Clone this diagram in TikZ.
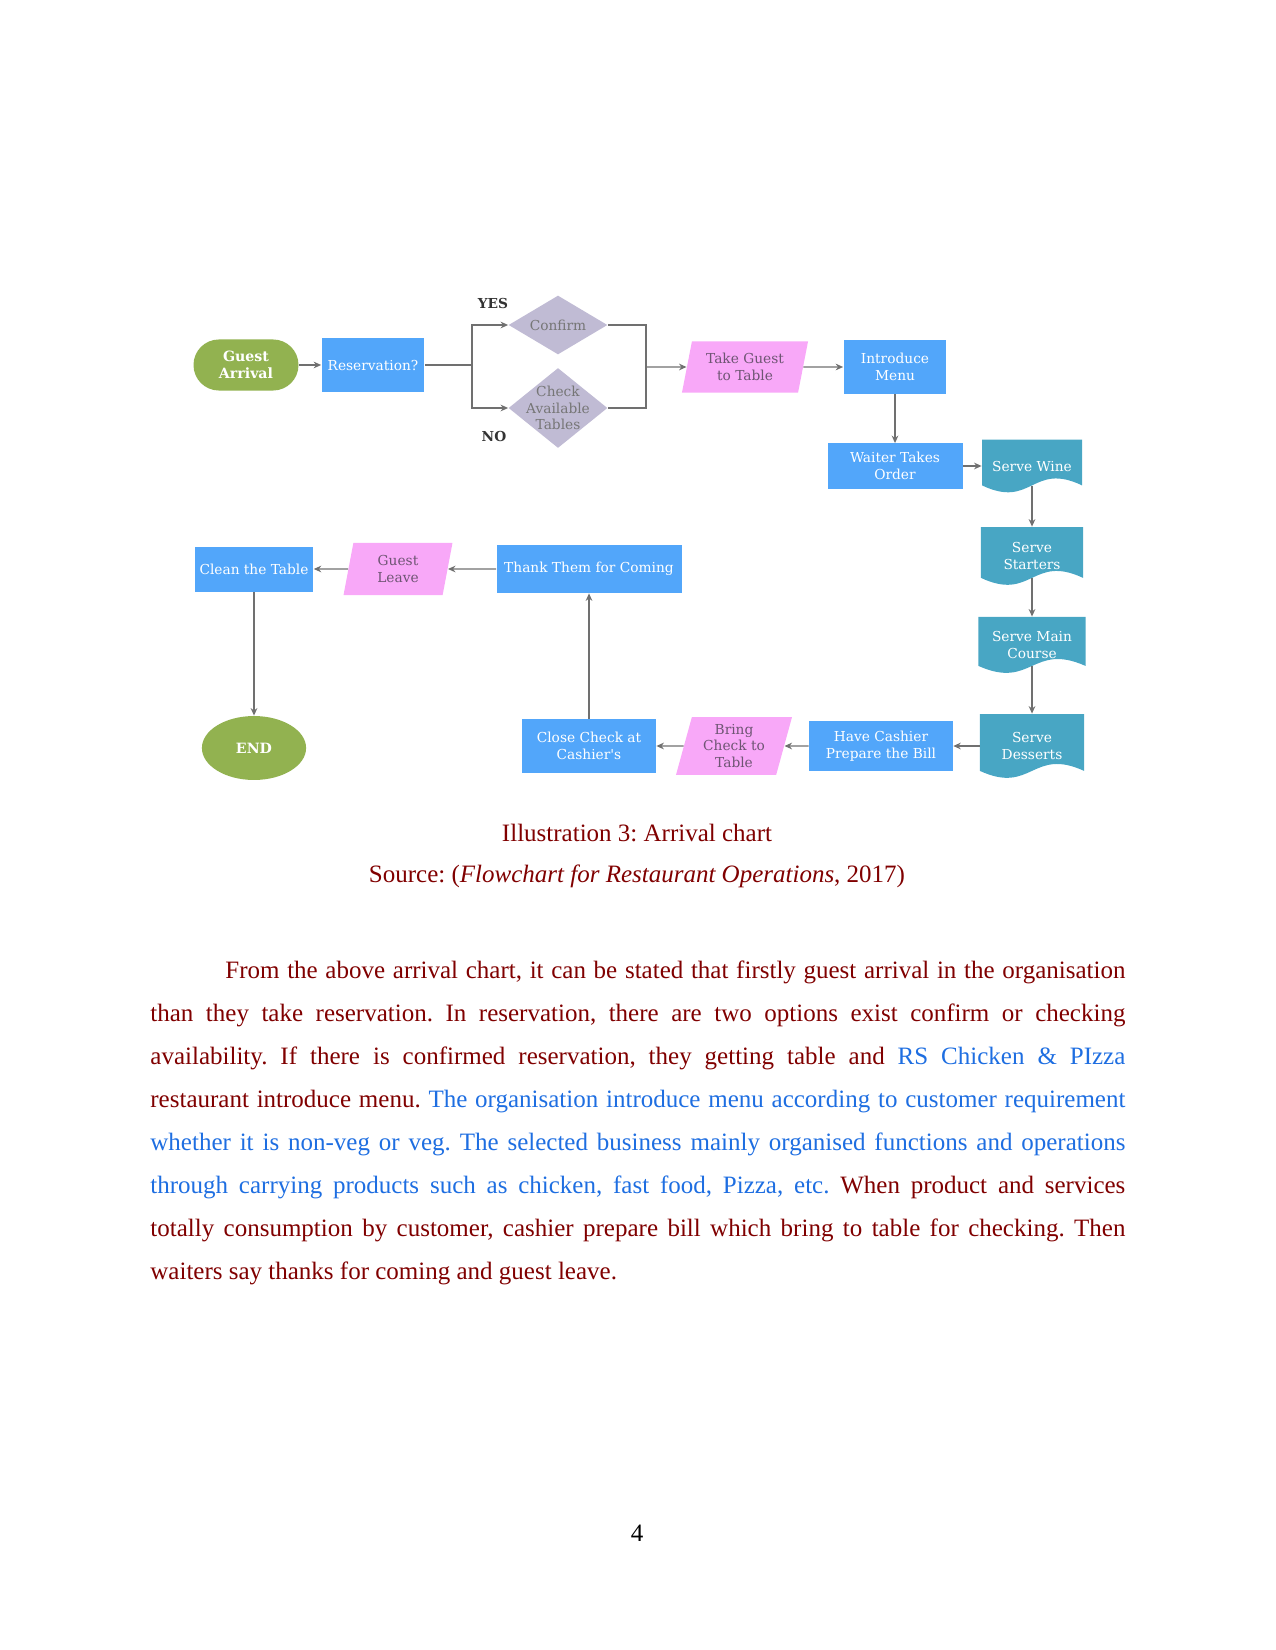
\documentclass[tikz,border=0pt]{standalone}
\usepackage{fontspec}
\setmainfont{Liberation Serif}
\newfontfamily\chartfont{DejaVu Serif}
\usetikzlibrary{shapes.geometric,arrows.meta,calc}
\definecolor{boxblue}{RGB}{82,166,250}
\definecolor{serveteal}{RGB}{72,166,196}
\definecolor{walkpink}{RGB}{248,168,248}
\definecolor{walktext}{RGB}{110,85,115}
\definecolor{askgray}{RGB}{192,187,212}
\definecolor{asktext}{RGB}{118,118,118}
\definecolor{endgreen}{RGB}{146,178,80}
\definecolor{linegray}{RGB}{112,112,112}
\definecolor{bodyred}{RGB}{128,0,0}
\definecolor{bodyblue}{RGB}{30,110,225}
\tikzset{
  chartlabel/.style={font=\chartfont\fontsize{6.6}{8}\selectfont, align=center, inner sep=0pt},
  stepbox/.style={chartlabel, rectangle, fill=boxblue, text=white},
  walkbox/.style={chartlabel, trapezium, trapezium left angle=70, trapezium right angle=110,
    trapezium stretches body, fill=walkpink, text=walktext},
  askbox/.style={chartlabel, diamond, fill=askgray},
  startend/.style={chartlabel, fill=endgreen, text=white, font=\chartfont\bfseries\fontsize{6.8}{8}\selectfont},
  servebox/.style={chartlabel, rectangle, text=white,
    path picture={
      \path (path picture bounding box.south west) coordinate (dsw)
            (path picture bounding box.south east) coordinate (dse);
      \fill[serveteal] (path picture bounding box.north west) -- (path picture bounding box.north east)
        -- ([yshift=3.4pt]dse) .. controls ([yshift=14.9pt]$(dsw)!0.5!(dse)$) and ([yshift=-8.1pt]$(dsw)!0.5!(dse)$) .. ([yshift=3.4pt]dsw) -- cycle;}},
  link/.style={draw=linegray, line width=0.6pt},
  conn/.style={link, -{Stealth[length=3.6pt,width=3.2pt]}},
  pagetext/.style={font=\frenchspacing\fontsize{12}{20.7}\selectfont, text=bodyred, inner sep=0pt, anchor=base}
}
\begin{document}
\begin{tikzpicture}[x=0.48pt,y=-0.48pt]
\useasboundingbox (0,0) rectangle (1275,1650);

\node[startend, rectangle, rounded corners=12.2pt, minimum width=50.4pt, minimum height=24.5pt] (guest) at (246,365) {Guest\\Arrival};
\node[stepbox, minimum width=49.4pt, minimum height=25.9pt] (resv) at (373,365) {Reservation?};
\node[askbox, minimum width=47.5pt, minimum height=28.3pt,
  label={[chartlabel, text=asktext]center:Confirm}] (confirm) at (558,325) {};
\node[askbox, minimum width=47.5pt, minimum height=38.4pt,
  label={[chartlabel, text=asktext]center:{Check\\Available\\Tables}}] (chk) at (558,408) {};
\node[chartlabel, font=\chartfont\bfseries\fontsize{6.6}{8}\selectfont, text=black!80] (yes) at (493,303) {YES};
\node[chartlabel, font=\chartfont\bfseries\fontsize{6.6}{8}\selectfont, text=black!80] (no) at (494,436) {NO};
\node[walkbox, minimum width=60.5pt, minimum height=24.5pt] (ttable) at (745,367) {Take Guest\\to Table};
\node[stepbox, minimum width=49.4pt, minimum height=25.9pt] (menu) at (895,367) {Introduce\\Menu};
\node[stepbox, minimum width=64.8pt, minimum height=21.6pt] (waiter) at (895,466) {Waiter Takes\\Order};
\node[servebox, minimum width=48pt, minimum height=25.4pt] (wine) at (1032,466) {Serve Wine};
\node[servebox, minimum width=49pt, minimum height=27.8pt] (starters) at (1032,556) {Serve\\Starters};
\node[servebox, minimum width=51.4pt, minimum height=26.9pt] (maincourse) at (1032,645) {Serve Main\\Course};
\node[servebox, minimum width=50pt, minimum height=30.7pt] (desserts) at (1032,746) {Serve\\Desserts};
\node[stepbox, minimum width=69pt, minimum height=24pt] (cashier) at (881,746) {Have Cashier\\Prepare the Bill};
\node[walkbox, minimum width=55.7pt, minimum height=27.8pt] (bring) at (734,746) {Bring\\Check to\\Table};
\node[stepbox, minimum width=64.3pt, minimum height=25.9pt] (close) at (589,746) {Close Check at\\Cashier's};
\node[stepbox, minimum width=88.8pt, minimum height=23pt] (thank) at (589,569) {Thank Them for Coming};
\node[walkbox, minimum width=52.3pt, minimum height=25pt] (leave) at (398,569) {Guest\\Leave};
\node[stepbox, minimum width=57pt, minimum height=21.6pt] (clean) at (254,569) {Clean the Table};
\node[startend, ellipse, minimum width=50pt, minimum height=30.7pt] (finish) at (254,748) {END};

\coordinate (split) at (472,365);
\coordinate (join) at (646,367);
\draw[conn] (guest.east) -- (resv.west);
\draw[link] (resv.east) -- (split);
\draw[conn] (split) |- (confirm.west);
\draw[conn] (split) |- (chk.west);
\draw[link] (confirm.east) -| (join) |- (chk.east);
\draw[conn] (join) -- (ttable.west);
\draw[conn] (ttable.east) -- (menu.west);
\draw[conn] (menu.south) -- (waiter.north);
\draw[conn] (waiter.east) -- (wine.west);
\draw[conn, shorten <=-3.4pt] (wine.south) -- (starters.north);
\draw[conn, shorten <=-3.4pt] (starters.south) -- (maincourse.north);
\draw[conn, shorten <=-3.4pt] (maincourse.south) -- (desserts.north);
\draw[conn] (desserts.west) -- (cashier.east);
\draw[conn] (cashier.west) -- (bring.east);
\draw[conn] (bring.west) -- (close.east);
\draw[conn] (close.north) -- (thank.south);
\draw[conn] (thank.west) -- (leave.east);
\draw[conn] (leave.west) -- (clean.east);
\draw[conn] (clean.south) -- (finish.north);

\node[pagetext] (caption) at (637,841) {Illustration 3: Arrival chart};
\node[pagetext] (source) at (637,882) {Source: (\textit{Flowchart for Restaurant Operations}, 2017)};
\node[pagetext, anchor=base west, text width=468pt, align=justify] (para) at (150,978)
  {\hspace*{36pt}From the above arrival chart, it can be stated that firstly guest arrival in the organisation\linebreak
   than they take reservation. In reservation, there are two options exist confirm or checking\linebreak
   availability. If there is confirmed reservation, they getting table and \textcolor{bodyblue}{RS Chicken \& PIzza}\linebreak
   restaurant introduce menu. \textcolor{bodyblue}{The organisation introduce menu according to customer requirement\linebreak
   whether it is non-veg or veg. The selected business mainly organised functions and operations\linebreak
   through carrying products such as chicken, fast food, Pizza, etc.} When product and services\linebreak
   totally consumption by customer, cashier prepare bill which bring to table for checking. Then\linebreak
   waiters say thanks for coming and guest leave.};
\node[pagetext, text=black] (pageno) at (637,1541) {4};
\end{tikzpicture}
\end{document}
